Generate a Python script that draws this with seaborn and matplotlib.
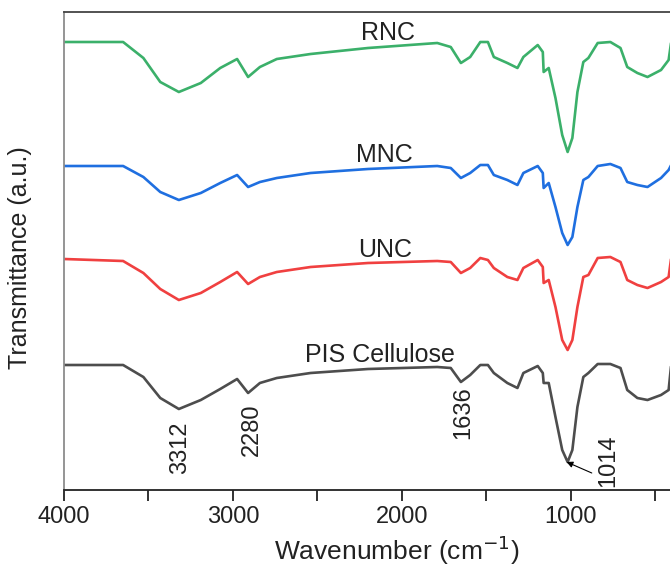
import numpy as np
import pandas as pd
import matplotlib
matplotlib.use("Agg")
import matplotlib.pyplot as plt
from matplotlib.ticker import MultipleLocator
import seaborn as sns

# wavenumber grid (cm-1)
wavenumber = [4000, 3650, 3530, 3430, 3320, 3190, 3075, 2975, 2910, 2840,
              2740, 2540, 2200, 1790, 1710, 1650, 1595, 1535, 1490, 1455,
              1375, 1315, 1280, 1195, 1165, 1160, 1130, 1090, 1050, 1018,
              990, 960, 925, 895, 840, 765, 705, 665, 605, 545,
              465, 420, 405]

# stacked transmittance traces (a.u.)
rnc = [448, 448, 432, 408, 398, 407, 422, 431, 413, 423,
       431, 436, 442, 447, 443, 427, 433, 448, 448, 433,
       427, 422, 433, 445, 438, 418, 422, 392, 355, 338,
       352, 398, 428, 432, 447, 448, 442, 423, 417, 413,
       420, 430, 448]
mnc = [324, 324, 313, 298, 290, 297, 307, 315, 303, 308,
       312, 317, 321, 324, 322, 312, 317, 325, 325, 315,
       310, 305, 317, 324, 317, 302, 307, 283, 257, 245,
       253, 283, 310, 313, 324, 326, 322, 308, 305, 303,
       312, 320, 325]
unc = [231, 229, 217, 201, 190, 197, 208, 218, 206, 213,
       218, 223, 227, 229, 228, 217, 222, 232, 230, 222,
       213, 210, 222, 230, 223, 207, 210, 183, 150, 140,
       150, 183, 213, 215, 232, 233, 228, 210, 205, 202,
       208, 213, 232]
pis = [125, 125, 113, 92, 81, 90, 101, 111, 97, 107,
       112, 117, 121, 123, 122, 108, 115, 125, 125, 117,
       107, 102, 117, 124, 117, 107, 107, 73, 40, 28,
       40, 83, 113, 117, 126, 126, 122, 100, 92, 90,
       95, 100, 125]

samples = ["RNC", "MNC", "UNC", "PIS Cellulose"]
colors = ["#3bb06a", "#1f6fe0", "#f04040", "#4d4d4d"]
label_pos = [(2079, 457), (2103, 335), (2097, 240), (2127, 135)]

# peak annotations
peak_labels = ["3312", "2280", "1636", "1014"]
peak_pos = [(3312, 42), (2890, 60), (1635, 77), (775, 29)]

df = pd.concat([
    pd.DataFrame({"wavenumber": wavenumber, "T": vals, "sample": name})
    for name, vals in zip(samples, [rnc, mnc, unc, pis])
])

sns.set_theme(style="ticks")
plt.rcParams["font.family"] = ["Liberation Sans", "DejaVu Sans"]

fig = plt.figure(figsize=(6.7, 5.7), dpi=100)
ax = fig.add_axes([64 / 670, 80 / 570, 608 / 670, 478 / 570])

sns.lineplot(data=df, x="wavenumber", y="T", hue="sample",
             palette=dict(zip(samples, colors)), estimator=None,
             linewidth=1.9, legend=False, ax=ax)

for name, (x, y) in zip(samples, label_pos):
    ax.text(x, y, name, fontsize=18, ha="center", va="center", color="#222222")

for txt, (x, y) in zip(peak_labels, peak_pos):
    ax.text(x, y, txt, fontsize=17, rotation=90, ha="center", va="center",
            color="#222222")

# small arrow pointing at the 1014 band
ax.annotate("", xy=(1024, 28), xytext=(875, 17),
            arrowprops=dict(arrowstyle="-|>", color="black", lw=0.8,
                            shrinkA=0, shrinkB=0, mutation_scale=9))

ax.set_xlim(4000, 400)
ax.set_ylim(0, 478)
ax.xaxis.set_major_locator(MultipleLocator(1000))
ax.xaxis.set_minor_locator(MultipleLocator(500))
ax.tick_params(axis="x", which="both", direction="out", length=8, width=1.3,
               labelsize=17, colors="#222222")
ax.set_yticks([])
ax.set_xlabel("Wavenumber (cm$^{-1}$)", fontsize=19, color="#222222")
ax.xaxis.set_label_coords(0.548, -0.092)
ax.set_ylabel("Transmittance (a.u.)", fontsize=18, color="#222222")
ax.yaxis.set_label_coords(-0.052, 0.487)

ax.spines["left"].set_color("#8c8c8c")
ax.spines["top"].set_color("#444444")
ax.spines["bottom"].set_color("#222222")
for s in ax.spines.values():
    s.set_linewidth(1.3)

fig.savefig("out.png", dpi=100)
